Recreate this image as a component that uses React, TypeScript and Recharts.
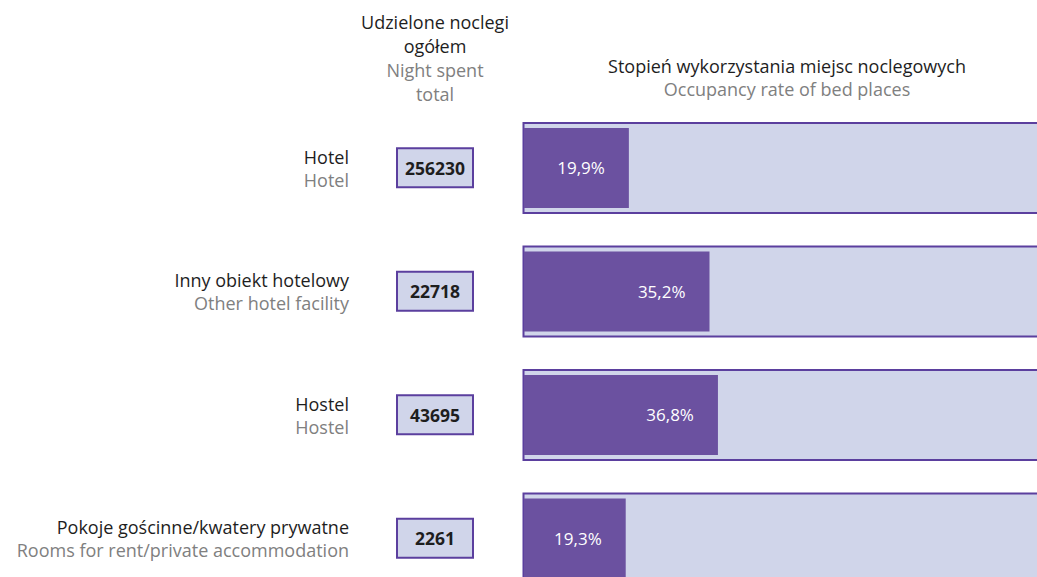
import React from "react";
import { BarChart, Bar, XAxis, YAxis, LabelList } from "recharts";

const categoriesPl = ["Hotel", "Inny obiekt hotelowy", "Hostel", "Pokoje gościnne/kwatery prywatne"];
const categoriesEn = ["Hotel", "Other hotel facility", "Hostel", "Rooms for rent/private accommodation"];
const nightsSpent = [256230, 22718, 43695, 2261];
const occupancyRate = [19.9, 35.2, 36.8, 19.3];

const data = categoriesPl.map((c, i) => ({
  name: c,
  en: categoriesEn[i],
  nights: nightsSpent[i],
  rate: occupancyRate[i],
}));

const FONT = "'Open Sans', 'Noto Sans', sans-serif";
const PURPLE = "#6b51a0";
const BORDER = "#5b3f9e";
const LIGHT = "#d0d5ea";
const BLACK = "#1e1e1e";
const GRAY = "#808080";

const RowTick = (props: any) => {
  const { y, payload } = props;
  const d = data[payload.index] || data.find((r) => r.name === payload.value);
  return (
    <g>
      <text x={349} y={y - 11} textAnchor="end" dominantBaseline="central" fontSize={18} fill={BLACK} fontFamily={FONT}>
        {d.name}
      </text>
      <text x={349} y={y + 12} textAnchor="end" dominantBaseline="central" fontSize={18} fill={GRAY} fontFamily={FONT}>
        {d.en}
      </text>
      <rect x={397} y={y - 19.5} width={76} height={39} fill={LIGHT} stroke={BORDER} strokeWidth={2} />
      <text x={435} y={y} textAnchor="middle" dominantBaseline="central" fontSize={17.5} fontWeight={700} fill={BLACK} fontFamily={FONT}>
        {d.nights}
      </text>
    </g>
  );
};

const BgBar = (props: any) => {
  const { x, y, width, height } = props;
  return (
    <rect x={x - 0.5} y={y - 5} width={width + 1} height={height + 10} fill={LIGHT} stroke={BORDER} strokeWidth={2} />
  );
};

export default function App() {
  return (
    <div style={{ position: "fixed", left: 0, top: 0, width: 1037, height: 577, overflow: "hidden", background: "#fff", fontFamily: FONT }}>
      <div style={{ position: "absolute", left: 285, width: 300, top: 10, textAlign: "center", fontSize: 18, lineHeight: "24px" }}>
        <div style={{ color: BLACK }}>Udzielone noclegi</div>
        <div style={{ color: BLACK }}>ogółem</div>
        <div style={{ color: GRAY }}>Night spent</div>
        <div style={{ color: GRAY }}>total</div>
      </div>
      <div style={{ position: "absolute", left: 537, width: 500, top: 55, textAlign: "center", fontSize: 18, lineHeight: "23px" }}>
        <div style={{ color: BLACK }}>Stopień wykorzystania miejsc noclegowych</div>
        <div style={{ color: GRAY }}>Occupancy rate of bed places</div>
      </div>
      <div style={{ position: "absolute", left: 0, top: 0 }}>
        <BarChart
          width={1052}
          height={600}
          data={data}
          layout="vertical"
          margin={{ top: 106, right: 1, bottom: 0, left: 0 }}
        >
          <XAxis type="number" domain={[0, 100]} hide />
          <YAxis
            type="category"
            dataKey="name"
            width={524}
            axisLine={false}
            tickLine={false}
            tick={<RowTick />}
            interval={0}
          />
          <Bar dataKey="rate" barSize={80} fill={PURPLE} background={<BgBar />} isAnimationActive={false}>
            <LabelList
              dataKey="rate"
              position="insideRight"
              offset={24}
              fill="#ffffff"
              fontSize={17}
              fontFamily={FONT}
              formatter={(v: any) => String(v).replace(".", ",") + "%"}
            />
          </Bar>
        </BarChart>
      </div>
    </div>
  );
}
